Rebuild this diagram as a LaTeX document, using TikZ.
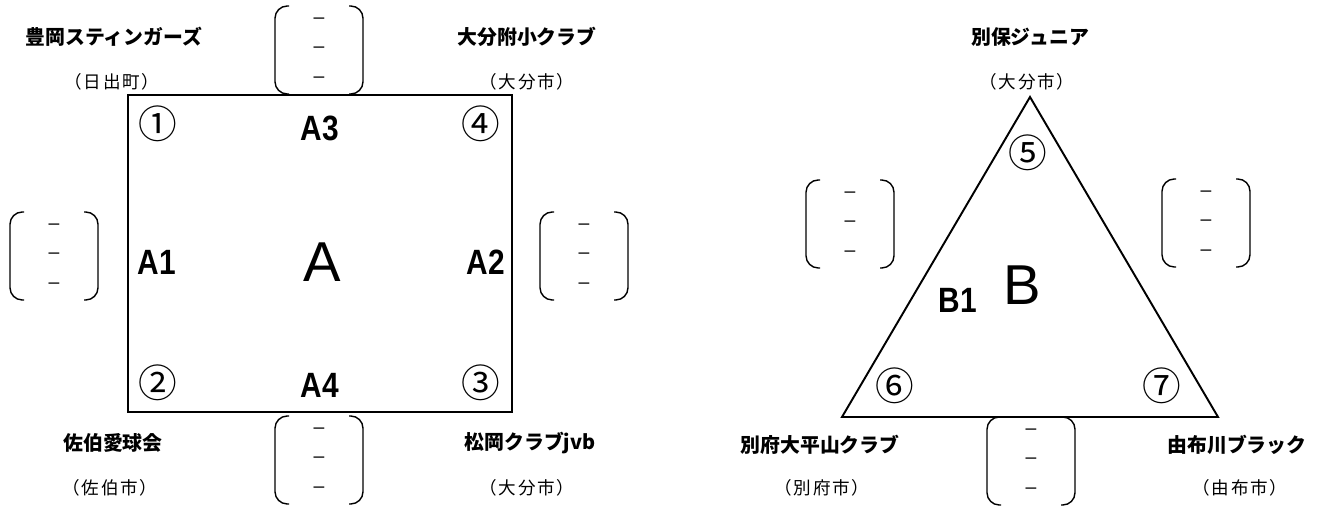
\documentclass[tikz,border=0pt]{standalone}
\usepackage{fontspec}
\setmainfont{Liberation Sans}
\newfontfamily\jp{Noto Sans CJK JP}
\newfontfamily\jpcity{Noto Sans CJK JP}[LetterSpace=10]
\def\groupA{(128,95) rectangle (512,412)}
\def\groupB{(1030,97) -- (842,417) -- (1218,417) -- cycle}
\newcommand\narrow[1]{\scalebox{0.85}[1]{#1}}
\newcommand\scorebox[3]{%
  \node[score] (#1) at (#2,#3) {--\\--\\--};
  \draw[bracket] (#2-30,#3-44) -- (#2-44,#3-44) -- (#2-44,#3+44) -- (#2-30,#3+44);
  \draw[bracket] (#2+30,#3-44) -- (#2+44,#3-44) -- (#2+44,#3+44) -- (#2+30,#3+44);
}

\begin{document}
\begin{tikzpicture}[x=0.02cm, y=-0.02cm,
  team/.style={font=\jp\bfseries\fontsize{11.3}{11.3}\selectfont},
  city/.style={font=\jpcity\fontsize{10}{10}\selectfont},
  slot/.style={font=\bfseries\fontsize{20}{20}\selectfont},
  seedno/.style={font=\jp\fontsize{22}{22}\selectfont, inner sep=0pt},
  grp/.style={font=\fontsize{32}{32}\selectfont},
  score/.style={align=center, inner sep=0pt, font=\fontsize{11}{16.7}\selectfont},
  bracket/.style={line width=0.8pt, rounded corners=7pt}]
\useasboundingbox (0,0) rectangle (1335,509);
% group A
\draw[line width=1.6pt] \groupA;
\node[seedno] (s1) at (158,124) {①};
\node[seedno] (s4) at (481,124) {④};
\node[seedno] (s2) at (158,383) {②};
\node[seedno] (s3) at (481,383) {③};
\node[slot] (A3) at (320,128) {\narrow{A3}};
\node[slot] (A4) at (320,385) {\narrow{A4}};
\node[slot] (A1) at (157,262) {\narrow{A1}};
\node[slot] (A2) at (486,262) {\narrow{A2}};
\node[grp] (gA) at (322,262) {A};
\node[team] (t1) at (114,37) {豊岡スティンガーズ};
\node[city] (c1) at (112,82) {（日出町）};
\node[team] (t4) at (527,37) {大分附小クラブ};
\node[city] (c4) at (527,82) {（大分市）};
\node[team] (t2) at (113,443) {佐伯愛球会};
\node[city] (c2) at (110,488) {（佐伯市）};
\node[team] (t3) at (530,443) {松岡クラブjvb};
\node[city] (c3) at (527,488) {（大分市）};
\scorebox{sA3}{319}{50}
\scorebox{sA1}{54}{256}
\scorebox{sA2}{584}{256}
\scorebox{sA4}{319}{460}
% group B
\draw[line width=1.1pt, line join=miter] \groupB;
\node[seedno] (s5) at (1028,153) {⑤};
\node[seedno] (s6) at (895,386) {⑥};
\node[seedno] (s7) at (1162,386) {⑦};
\node[slot] (B1) at (958,300) {\narrow{B1}};
\node[grp] (gB) at (1022,285) {B};
\node[team] (t5) at (1030,37) {別保ジュニア};
\node[city] (c5) at (1027,82) {（大分市）};
\node[team] (t6) at (820,445) {別府大平山クラブ};
\node[city] (c6) at (822,488) {（別府市）};
\node[team] (t7) at (1237,445) {由布川ブラック};
\node[city] (c7) at (1240,488) {（由布市）};
\scorebox{sB1}{850}{224}
\scorebox{sB2}{1206}{223}
\scorebox{sB3}{1031}{461}
\end{tikzpicture}
\end{document}
